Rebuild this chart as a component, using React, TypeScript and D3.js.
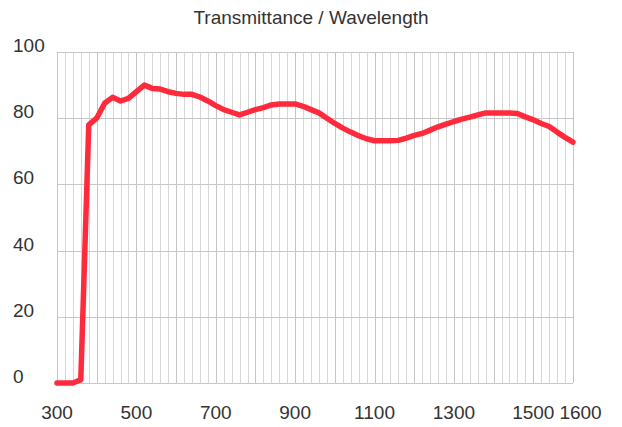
import React, { useEffect, useRef } from "react";
import * as d3 from "d3";

const title = "Transmittance / Wavelength";
const wavelengths = d3.range(300, 1601, 20);
const transmittance = [
  0, 0, 0, 1, 78, 80, 84.5, 86.3, 85.2, 86, 88, 90, 89, 88.8, 88, 87.5, 87.2, 87.2, 86.4, 85.2,
  83.8, 82.6, 81.8, 81, 81.8, 82.6, 83.2, 84, 84.3, 84.3, 84.3, 83.6, 82.6, 81.6, 80, 78.4, 77,
  75.8, 74.7, 73.8, 73.2, 73.2, 73.2, 73.3, 74, 74.8, 75.4, 76.4, 77.4, 78.2, 79, 79.7, 80.3, 81,
  81.6, 81.6, 81.6, 81.6, 81.4, 80.4, 79.5, 78.4, 77.5, 75.8, 74.2, 72.8,
];
const xTickLabels = [300, 500, 700, 900, 1100, 1300, 1500, 1600];
const yTickLabels = [0, 20, 40, 60, 80, 100];

const W = 622;
const H = 427;
const M = { left: 57, right: 49, top: 52, bottom: 44 };

if (typeof document !== "undefined") document.body.style.margin = "0";

export default function App() {
  const ref = useRef<SVGSVGElement>(null);
  useEffect(() => {
    const svg = d3.select(ref.current);
    svg.selectAll("*").remove();
    const x = d3.scaleLinear().domain([300, 1600]).range([M.left, W - M.right]);
    const y = d3.scaleLinear().domain([0, 100]).range([H - M.bottom, M.top]);
    const font = "'Liberation Sans', Arial, Helvetica, sans-serif";

    const grid = svg.append("g");
    grid
      .selectAll("line.v")
      .data(wavelengths)
      .join("line")
      .attr("x1", (d) => Math.round(x(d)) + 0.5)
      .attr("x2", (d) => Math.round(x(d)) + 0.5)
      .attr("y1", y(100))
      .attr("y2", y(0))
      .attr("stroke", (d) => (d % 100 === 0 ? "#c4c4c4" : "#d6d6d6"))
      .attr("stroke-width", 1);
    grid
      .selectAll("line.h")
      .data(d3.range(0, 101, 20))
      .join("line")
      .attr("x1", x(300))
      .attr("x2", x(1600))
      .attr("y1", (d) => Math.round(y(d)) + 0.5)
      .attr("y2", (d) => Math.round(y(d)) + 0.5)
      .attr("stroke", "#c8c8c8")
      .attr("stroke-width", 1);

    const line = d3
      .line<number>()
      .x((_, i) => x(wavelengths[i]))
      .y((d) => y(d));
    svg
      .append("path")
      .datum(transmittance)
      .attr("d", line)
      .attr("fill", "none")
      .attr("stroke", "#ff2b3c")
      .attr("stroke-width", 5.5)
      .attr("stroke-linejoin", "round")
      .attr("stroke-linecap", "round");

    svg
      .append("text")
      .attr("x", (M.left + W - M.right) / 2 - 4)
      .attr("y", 24)
      .attr("text-anchor", "middle")
      .attr("font-family", font)
      .attr("font-size", 19)
      .attr("fill", "#333")
      .text(title);

    svg
      .selectAll("text.y")
      .data(yTickLabels)
      .join("text")
      .attr("x", 13)
      .attr("y", (d) => y(d))
      .attr("font-family", font)
      .attr("font-size", 19)
      .attr("fill", "#333")
      .text((d) => String(d));

    // x labels, shifting a label right if it would overlap its neighbour
    let prevRight = -Infinity;
    const fs = 19;
    xTickLabels.forEach((v) => {
      const w = String(v).length * fs * 0.556;
      let cx = x(v);
      if (cx - w / 2 < prevRight + 5) cx = prevRight + 5 + w / 2;
      prevRight = cx + w / 2;
      svg
        .append("text")
        .attr("x", cx)
        .attr("y", 419)
        .attr("text-anchor", "middle")
        .attr("font-family", font)
        .attr("font-size", fs)
        .attr("fill", "#333")
        .text(String(v));
    });
  }, []);
  return <svg ref={ref} width={W} height={H} style={{ display: "block" }} />;
}
